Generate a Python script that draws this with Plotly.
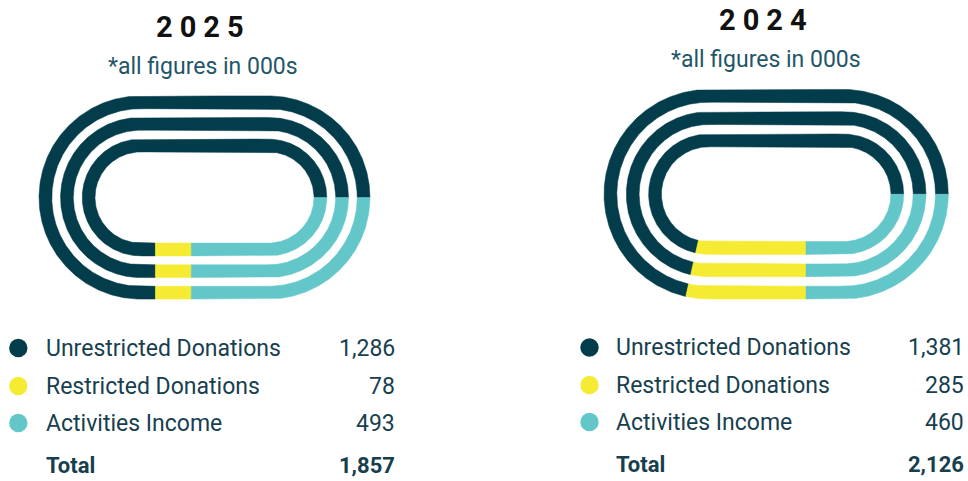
import numpy as np
import plotly.graph_objects as go

# Income split, in thousands
categories = ["Unrestricted Donations", "Restricted Donations", "Activities Income"]
years = ["2025", "2024"]
values_2025 = [1286, 78, 493]
values_2024 = [1381, 285, 460]

DARK = "#033c4a"
YELLOW = "#f6eb33"
TEAL = "#63c6c9"
TEXT = "#17404f"
SUB = "#1f5668"
seg_colors = [DARK, YELLOW, TEAL]

TITLE_FONT = "Roboto"
BODY_FONT = "Roboto"
BODY_SIZE = 23
BODY_WEIGHT = 400
W, H = 968, 481

# Layout of each panel (pixel space)
panels = [
    dict(year="2025", values=values_2025, cL=140.6, cR=268.4, cy=197.5,
         radii=[95.2, 73.7, 52.0], title_x=203, title_y=27, sub_y=66,
         dot_x=18.3, text_x=44, val_x=397, rows=[348, 386, 423], total_y=465),
    dict(year="2024", values=values_2024, cL=708.8, cR=843.5, cy=194.2,
         radii=[98.4, 76.1, 53.8], title_x=766, title_y=20, sub_y=59,
         dot_x=589.5, text_x=614, val_x=966, rows=[347.5, 385, 422], total_y=464),
]
TRACK_W = 12.8


def stadium_point(s, r, p):
    """Position along a stadium-shaped lane, parametrised by the outer lane's arc length."""
    cL, cR, cy, R = p["cL"], p["cR"], p["cy"], p["radii"][0]
    S = cR - cL
    P = 2 * S + 2 * np.pi * R
    s = np.mod(s, P)
    x = np.empty_like(s)
    y = np.empty_like(s)
    m1 = s < S
    x[m1] = cL + s[m1]
    y[m1] = cy + r
    m2 = (s >= S) & (s < S + np.pi * R)
    th = (s[m2] - S) / R
    x[m2] = cR + r * np.sin(th)
    y[m2] = cy + r * np.cos(th)
    m3 = (s >= S + np.pi * R) & (s < 2 * S + np.pi * R)
    x[m3] = cR - (s[m3] - S - np.pi * R)
    y[m3] = cy - r
    m4 = s >= 2 * S + np.pi * R
    ph = (s[m4] - 2 * S - np.pi * R) / R
    x[m4] = cL - r * np.sin(ph)
    y[m4] = cy - r * np.cos(ph)
    return x, y


fig = go.Figure()
annotations = []
shapes = []

for p in panels:
    vals = p["values"]
    total = sum(vals)
    R = p["radii"][0]
    S = p["cR"] - p["cL"]
    perim = 2 * S + 2 * np.pi * R
    lens = [v / total * perim for v in vals]
    anchor = S + np.pi * R / 2  # right-hand midpoint of the track
    # segment ranges: activities ends at the anchor, restricted precedes it,
    # unrestricted runs on from the anchor around the rest of the lap
    ranges = [
        (anchor, anchor + lens[0]),
        (anchor - lens[2] - lens[1], anchor - lens[2]),
        (anchor - lens[2], anchor),
    ]
    for r in p["radii"]:
        for (s0, s1), col in zip(ranges, seg_colors):
            n = max(int((s1 - s0) * 1.5), 4)
            ss = np.linspace(s0, s1, n)
            xo, yo = stadium_point(ss, r + TRACK_W / 2, p)
            xi, yi = stadium_point(ss[::-1], r - TRACK_W / 2, p)
            xs = np.concatenate([xo, xi, xo[:1]])
            ys = np.concatenate([yo, yi, yo[:1]])
            fig.add_trace(go.Scatter(
                x=xs, y=ys, mode="lines", fill="toself", fillcolor=col,
                line=dict(color=col, width=0.5), hoverinfo="skip", showlegend=False,
            ))

    # headings
    annotations.append(dict(
        x=p["title_x"], y=p["title_y"], xref="x", yref="y",
        text='<b><span style="letter-spacing:7px">%s</span></b>' % p["year"],
        showarrow=False, xanchor="center", yanchor="middle",
        font=dict(family=TITLE_FONT, size=29, color="#111111"),
    ))
    annotations.append(dict(
        x=p["title_x"], y=p["sub_y"], xref="x", yref="y",
        text="*all figures in 000s", showarrow=False,
        xanchor="center", yanchor="middle",
        font=dict(family=BODY_FONT, size=BODY_SIZE, color=SUB, weight=BODY_WEIGHT),
    ))

    # key with values
    for cat, v, col, ry in zip(categories, vals, seg_colors, p["rows"]):
        shapes.append(dict(
            type="circle", xref="x", yref="y",
            x0=p["dot_x"] - 9.2, x1=p["dot_x"] + 9.2, y0=ry - 9.2, y1=ry + 9.2,
            fillcolor=col, line=dict(width=0),
        ))
        annotations.append(dict(
            x=p["text_x"], y=ry, xref="x", yref="y", text=cat, showarrow=False,
            xanchor="left", yanchor="middle",
            font=dict(family=BODY_FONT, size=BODY_SIZE, color=TEXT, weight=BODY_WEIGHT),
        ))
        annotations.append(dict(
            x=p["val_x"], y=ry, xref="x", yref="y", text=f"{v:,}", showarrow=False,
            xanchor="right", yanchor="middle",
            font=dict(family=BODY_FONT, size=BODY_SIZE, color=TEXT, weight=BODY_WEIGHT),
        ))
    annotations.append(dict(
        x=p["text_x"], y=p["total_y"], xref="x", yref="y", text="Total",
        showarrow=False, xanchor="left", yanchor="middle",
        font=dict(family=BODY_FONT, size=BODY_SIZE - 1, color=TEXT, weight=700),
    ))
    annotations.append(dict(
        x=p["val_x"], y=p["total_y"], xref="x", yref="y", text=f"{total:,}",
        showarrow=False, xanchor="right", yanchor="middle",
        font=dict(family=BODY_FONT, size=BODY_SIZE - 1, color=TEXT, weight=700),
    ))

fig.update_layout(
    width=W, height=H,
    margin=dict(l=0, r=0, t=0, b=0),
    paper_bgcolor="white", plot_bgcolor="white",
    xaxis=dict(range=[0, W], visible=False, fixedrange=True),
    yaxis=dict(range=[H, 0], visible=False, fixedrange=True),
    showlegend=False,
    annotations=annotations,
    shapes=shapes,
    font=dict(family=BODY_FONT),
)

fig.write_html("out.html")
